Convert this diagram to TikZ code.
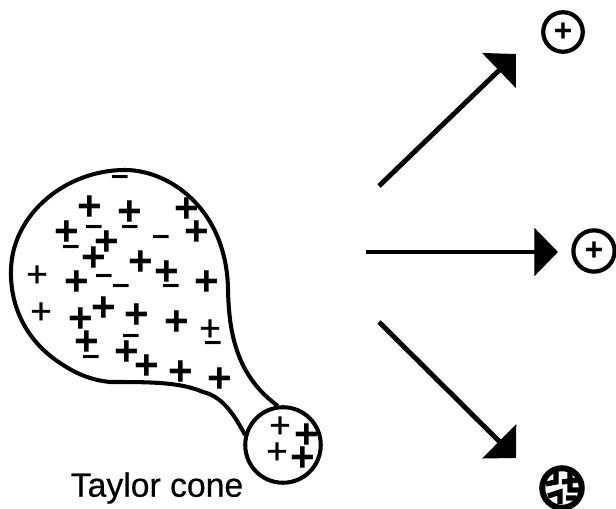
\documentclass[tikz,border=0pt]{standalone}
\usepackage{fontspec}
\setmainfont{Liberation Sans}
\newfontfamily\heavyfont[FakeBold=0.5]{Liberation Sans}
\usetikzlibrary{arrows.meta}
\tikzset{
	plusbold/.style={inner sep=0pt,font=\fontsize{24}{24}\selectfont\bfseries},
	plusthin/.style={inner sep=0pt,font=\heavyfont\fontsize{21}{21}\selectfont},
	plussmall/.style={inner sep=0pt,font=\fontsize{18}{18}\selectfont\bfseries},
	minusbold/.style={inner sep=0pt,font=\fontsize{18}{18}\selectfont\bfseries},
	ion/.style={circle,draw,line width=2.4pt,minimum size=22.5pt,inner sep=0pt},
	jet/.style={line width=2.8pt,-{Triangle[length=13.5pt,width=27pt]}},
}
\begin{document}
\begin{tikzpicture}[x=0.02cm,y=-0.02cm]
	\useasboundingbox (0,0) rectangle (616,509);
	%%%%% START %%%%%
	% big drop running into the cone
	\draw[line width=2.3pt] (245,435) .. controls (232,410) and (220,396) .. (203,392)
		.. controls (180,382) and (150,382) .. (110,382)
		.. controls (90,380) and (75,373) .. (60,363)
		.. controls (25,340) and (10,305) .. (11,270)
		.. controls (12,215) and (65,170) .. (125,170)
		.. controls (170,170) and (227,210) .. (228,290)
		.. controls (229,330) and (235,375) .. (278,406);
	% small drop at the tip
	\node[circle,draw,line width=2.3pt,minimum size=43pt,inner sep=0pt] (tip) at (283,445) {};

	% charges inside
	\foreach \x/\y [count=\i] in {90/208,130/213,187/210,67/233,197/233,107/243,94/259,141/263,167/273,77/283,
		207/283,81/320,104/309,137/316,177/323,87/343,127/353,147/367,181/373,220/380,307/436,303/459}
		\node[plusbold] (plusb\i) at (\x,\y) {+};
	\foreach \x/\y [count=\i] in {37/276,41/313,210/330,280/427,277/453}
		\node[plusthin] (plust\i) at (\x,\y) {+};
	\foreach \x/\y [count=\i] in {120/180,94/230,130/230,161/240,71/250,104/279,121/289,171/289,213/346,131/339,91/360}
		\node[minusbold] (minus\i) at (\x,\y) {–};

	% ions flying off
	\node[ion] (ionA) at (563,32) {};
	\node[plussmall] (plusA) at (ionA) {+};
	\node[ion,minimum size=23.5pt] (ionB) at (594,251) {};
	\node[plussmall] (plusB) at (ionB) {+};
	\node[ion,line width=3.4pt,minimum size=22.5pt] (ionC) at (562,488) {};
	\draw[line width=3pt] (556,472) -- (556,482) -- (546,484) (570,472) -- (570,490) -- (580,490)
		(548,496) -- (560,492) -- (560,504) (562,482) -- (578,480) (566,498) -- (576,498);

	% the three jets
	\coordinate (startA) at (379,186);
	\coordinate (endA) at (516,54);
	\coordinate (startB) at (366,252);
	\coordinate (endB) at (558,252);
	\coordinate (startC) at (379,322);
	\coordinate (endC) at (516,458);
	\draw[jet] (startA) -- (endA);
	\draw[jet] (startB) -- (endB);
	\draw[jet] (startC) -- (endC);

	\node[font=\heavyfont\fontsize{19.2}{20}\selectfont,inner sep=0pt] (label) at (157,488) {Taylor cone};
	%%%%% END %%%%%
\end{tikzpicture}
\end{document}
